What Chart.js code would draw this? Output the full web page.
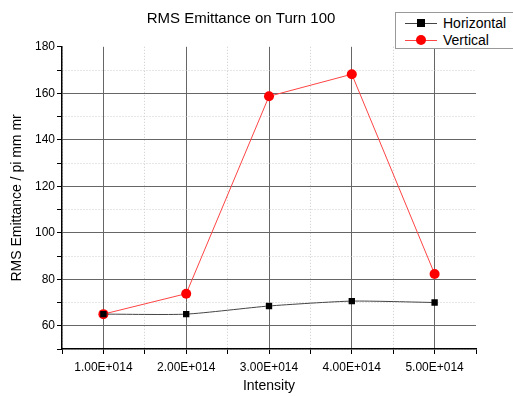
<!DOCTYPE html>
<html>
<head>
<meta charset="utf-8">
<script src="https://cdn.jsdelivr.net/npm/chart.js@4/dist/chart.umd.min.js"></script>
<style>
  html, body { margin: 0; padding: 0; background: #fff; }
  #wrap { position: relative; width: 513px; height: 397px; }
  #legend {
    position: absolute; left: 395px; top: 12px; width: 130px; height: 37px;
    border: 1px solid #999; background: #fff; box-sizing: border-box;
    font-family: "Liberation Sans", Arial, sans-serif; font-size: 14px; color: #000;
  }
  .row { position: absolute; left: 0; height: 17px; line-height: 17px; }
  .sample { position: absolute; left: 9px; top: 8px; width: 32px; height: 1px; }
  .mark { position: absolute; left: 12px; top: -4px; width: 8px; height: 8px; }
  .lbl { position: absolute; left: 47px; top: 0; white-space: nowrap; }
</style>
</head>
<body>
<div id="wrap">
  <canvas id="chart" width="513" height="397"></canvas>
  <div id="legend"></div>
</div>
<script>
// intensity in units of 1E+014
const intensity = [1, 2, 3, 4, 5];
const horizontal = [65.0, 65.0, 68.5, 70.6, 70.0];
const vertical = [65.0, 73.8, 158.7, 168.2, 82.3];
const seriesNames = ['Horizontal', 'Vertical'];

const FONT = '"Liberation Sans", Arial, sans-serif';

function isMajorX(v) { return Math.abs(v - Math.round(v)) < 1e-6; }

const ctx = document.getElementById('chart');
const chart = new Chart(ctx, {
    type: 'line',
    data: {
        datasets: [
            {
                label: seriesNames[0],
                data: intensity.map((x, i) => ({ x: x, y: horizontal[i] })),
                borderColor: '#444',
                backgroundColor: '#000',
                borderWidth: 1,
                pointStyle: 'rect',
                pointRadius: 4.5,
                pointBorderWidth: 0,
                tension: 0.2
            },
            {
                label: seriesNames[1],
                data: intensity.map((x, i) => ({ x: x, y: vertical[i] })),
                borderColor: '#f44',
                backgroundColor: '#f00',
                borderWidth: 1,
                pointStyle: 'circle',
                pointRadius: 5,
                pointBorderWidth: 0,
                tension: 0
            }
        ]
    },
    options: {
        responsive: false,
        animation: false,
        layout: { padding: { left: 6, right: 37, top: 8, bottom: 0 } },
        plugins: {
            legend: { display: false },
            tooltip: { enabled: false },
            title: {
                display: true,
                text: 'RMS Emittance on Turn 100',
                color: '#000',
                font: { family: FONT, size: 15, weight: 'normal', lineHeight: 1.12 },
                padding: { top: 2, bottom: 20 }
            }
        },
        scales: {
            x: {
                type: 'linear',
                min: 0.5,
                max: 5.5,
                afterFit: s => { s.height = 48; },
                border: {
                    color: '#000', width: 1.5,
                    dash: c => (c.tick && isMajorX(c.tick.value)) ? [] : [1, 2]
                },
                grid: {
                    color: c => {
                        if (!c.tick || c.tick.value >= 5.5) return 'rgba(0,0,0,0)';
                        return isMajorX(c.tick.value) ? '#666' : '#ccc';
                    },
                    tickColor: '#000',
                    tickLength: 5
                },
                ticks: {
                    stepSize: 0.5,
                    autoSkip: false,
                    maxRotation: 0,
                    padding: 6,
                    color: '#000',
                    font: { family: FONT, size: 12 },
                    callback: v => isMajorX(v) ? v.toFixed(2) + 'E+014' : ''
                },
                title: {
                    display: true,
                    text: 'Intensity',
                    color: '#000',
                    font: { family: FONT, size: 14 },
                    padding: { top: 0, bottom: 2 }
                }
            },
            y: {
                min: 50,
                max: 180,
                afterFit: s => { s.width = 56; },
                border: {
                    color: '#000', width: 1.5,
                    dash: c => (c.tick && c.tick.value % 20 === 0) ? [] : [1, 2]
                },
                grid: {
                    color: c => {
                        if (!c.tick || c.tick.value >= 180) return 'rgba(0,0,0,0)';
                        return c.tick.value % 20 === 0 ? '#666' : '#ccc';
                    },
                    tickColor: '#000',
                    tickLength: 5
                },
                ticks: {
                    stepSize: 10,
                    autoSkip: false,
                    padding: 2,
                    color: '#000',
                    font: { family: FONT, size: 12 },
                    callback: v => v % 20 === 0 ? v : ''
                },
                title: {
                    display: true,
                    text: 'RMS Emittance / pi mm mr',
                    color: '#000',
                    font: { family: FONT, size: 14 },
                    padding: { top: 3, bottom: 0 }
                }
            }
        }
    }
});

// legend built from the chart's datasets
const legendEl = document.getElementById('legend');
chart.data.datasets.forEach((ds, i) => {
    const row = document.createElement('div');
    row.className = 'row';
    row.style.top = (2 + i * 17) + 'px';
    const sample = document.createElement('div');
    sample.className = 'sample';
    sample.style.background = ds.borderColor;
    const mark = document.createElement('div');
    mark.className = 'mark';
    mark.style.background = ds.backgroundColor;
    if (ds.pointStyle === 'circle') {
        mark.style.borderRadius = '50%';
        mark.style.width = '10px'; mark.style.height = '10px';
        mark.style.left = '11px'; mark.style.top = '-5px';
    }
    sample.appendChild(mark);
    const lbl = document.createElement('span');
    lbl.className = 'lbl';
    lbl.textContent = ds.label;
    row.appendChild(sample);
    row.appendChild(lbl);
    legendEl.appendChild(row);
});
</script>
</body>
</html>
